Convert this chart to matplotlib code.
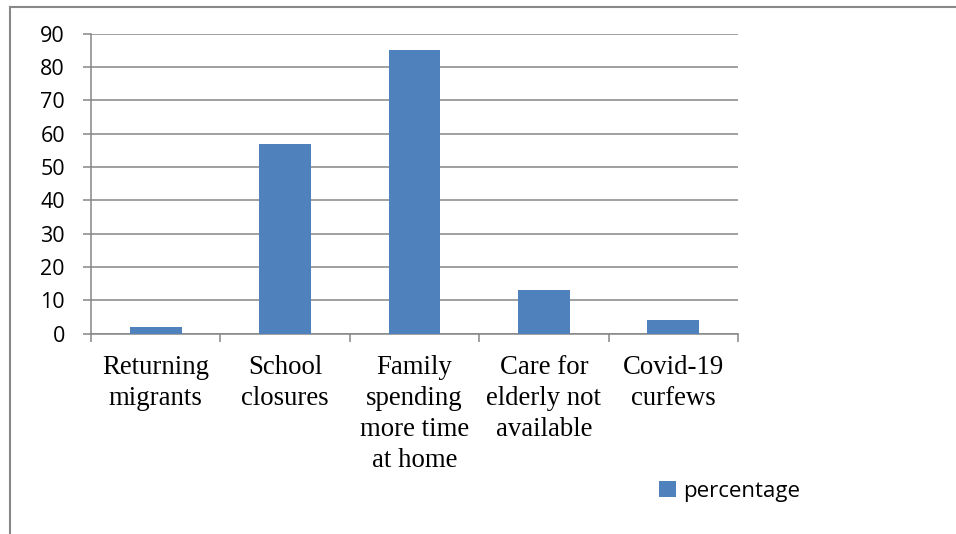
import matplotlib.pyplot as plt
from matplotlib.lines import Line2D
from matplotlib.patches import Patch
import numpy as np

categories = ["Returning\nmigrants", "School\nclosures", "Family\nspending\nmore time\nat home",
              "Care for\nelderly not\navailable", "Covid-19\ncurfews"]
values = [2, 57, 85, 13, 4]
series_name = "percentage"

W, H = 956, 534
fig = plt.figure(figsize=(W / 100, H / 100), dpi=100)
ax = fig.add_axes([91 / W, (H - 333.5) / H, 647 / W, 300 / H])

bar_color = "#4F81BD"
grid_color = "#868686"
x = np.arange(len(categories))
ax.bar(x, values, width=0.4, color=bar_color, zorder=3)

ax.set_xlim(-0.5, len(categories) - 0.5)
ax.set_ylim(0, 90)
ax.set_yticks(np.arange(0, 91, 10))
ax.yaxis.grid(True, color=grid_color, linewidth=1.1, zorder=0)

for side in ["top", "right"]:
    ax.spines[side].set_visible(False)
for side in ["left", "bottom"]:
    ax.spines[side].set_color(grid_color)
    ax.spines[side].set_linewidth(1.1)

ax.tick_params(axis="y", length=5.8, width=1.1, color=grid_color, pad=13, labelsize=15.5)
for lbl in ax.get_yticklabels():
    lbl.set_fontfamily("Open Sans")

ax.set_xticks(x)
ax.set_xticklabels(categories, fontfamily="Liberation Serif", fontsize=19.3,
                   linespacing=1.32, va="top")
ax.tick_params(axis="x", which="major", length=0, pad=15.5)
ax.set_xticks(np.arange(-0.5, len(categories), 1), minor=True)
ax.tick_params(axis="x", which="minor", length=5.8, width=1.1, color=grid_color)

handle = Patch(facecolor=bar_color, edgecolor="none")
fig.legend([handle], [series_name], loc="center left",
           bbox_to_anchor=(659 / W, 1 - 491 / H), frameon=False, borderpad=0,
           borderaxespad=0, handlelength=0.75, handleheight=0.75, handletextpad=0.35,
           prop={"family": "Open Sans", "size": 16})

# outer chart border (top and left only visible)
fig.add_artist(Line2D([10 / W, 10 / W], [0, 1 - 7 / H], transform=fig.transFigure,
                      color="#888888", linewidth=1.5))
fig.add_artist(Line2D([10 / W, 1], [1 - 7 / H, 1 - 7 / H], transform=fig.transFigure,
                      color="#888888", linewidth=1.5))

fig.savefig("out.png", dpi=100)
